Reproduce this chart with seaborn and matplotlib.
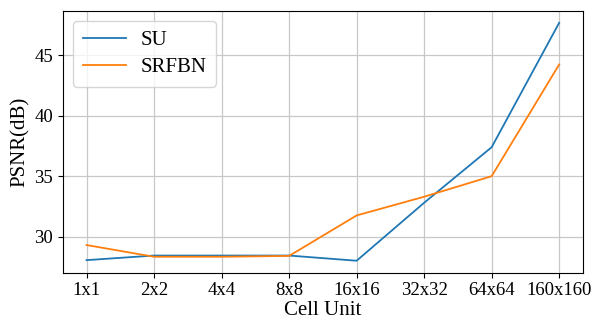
import matplotlib
matplotlib.use("Agg")
import matplotlib.pyplot as plt
import seaborn as sns
import pandas as pd

categories = ["1x1", "2x2", "4x4", "8x8", "16x16", "32x32", "64x64", "160x160"]
su = [28.05, 28.43, 28.43, 28.43, 28.0, 32.8, 37.4, 47.7]
srfbn = [29.3, 28.33, 28.33, 28.4, 31.75, 33.3, 35.0, 44.25]

plt.rcParams['font.family'] = ['Liberation Serif', 'DejaVu Serif']

df = pd.DataFrame({
    "x": list(range(len(categories))) * 2,
    "PSNR": su + srfbn,
    "method": ["SU"] * len(su) + ["SRFBN"] * len(srfbn),
})

fig, ax = plt.subplots(figsize=(5.99, 3.2), dpi=100)
sns.lineplot(data=df, x="x", y="PSNR", hue="method",
             palette=["#1f77b4", "#ff7f0e"], linewidth=1.3, ax=ax)
ax.set_xticks(range(len(categories)))
ax.set_xticklabels(categories)
ax.grid(True, color="#c8c8c8", linewidth=0.9)
ax.set_xlabel("Cell Unit", fontsize=15, labelpad=1)
ax.set_ylabel("PSNR(dB)", fontsize=15, labelpad=3)
ax.tick_params(labelsize=13.5)
ax.set_yticks([30, 35, 40, 45])
leg = ax.legend(loc="upper left", fontsize=15, handlelength=2.1,
                handletextpad=0.7, borderpad=0.45, labelspacing=0.35)
leg.get_frame().set_edgecolor("#cccccc")
fig.subplots_adjust(left=0.105, right=0.973, top=0.966, bottom=0.148)
fig.savefig("out.png", dpi=100)
